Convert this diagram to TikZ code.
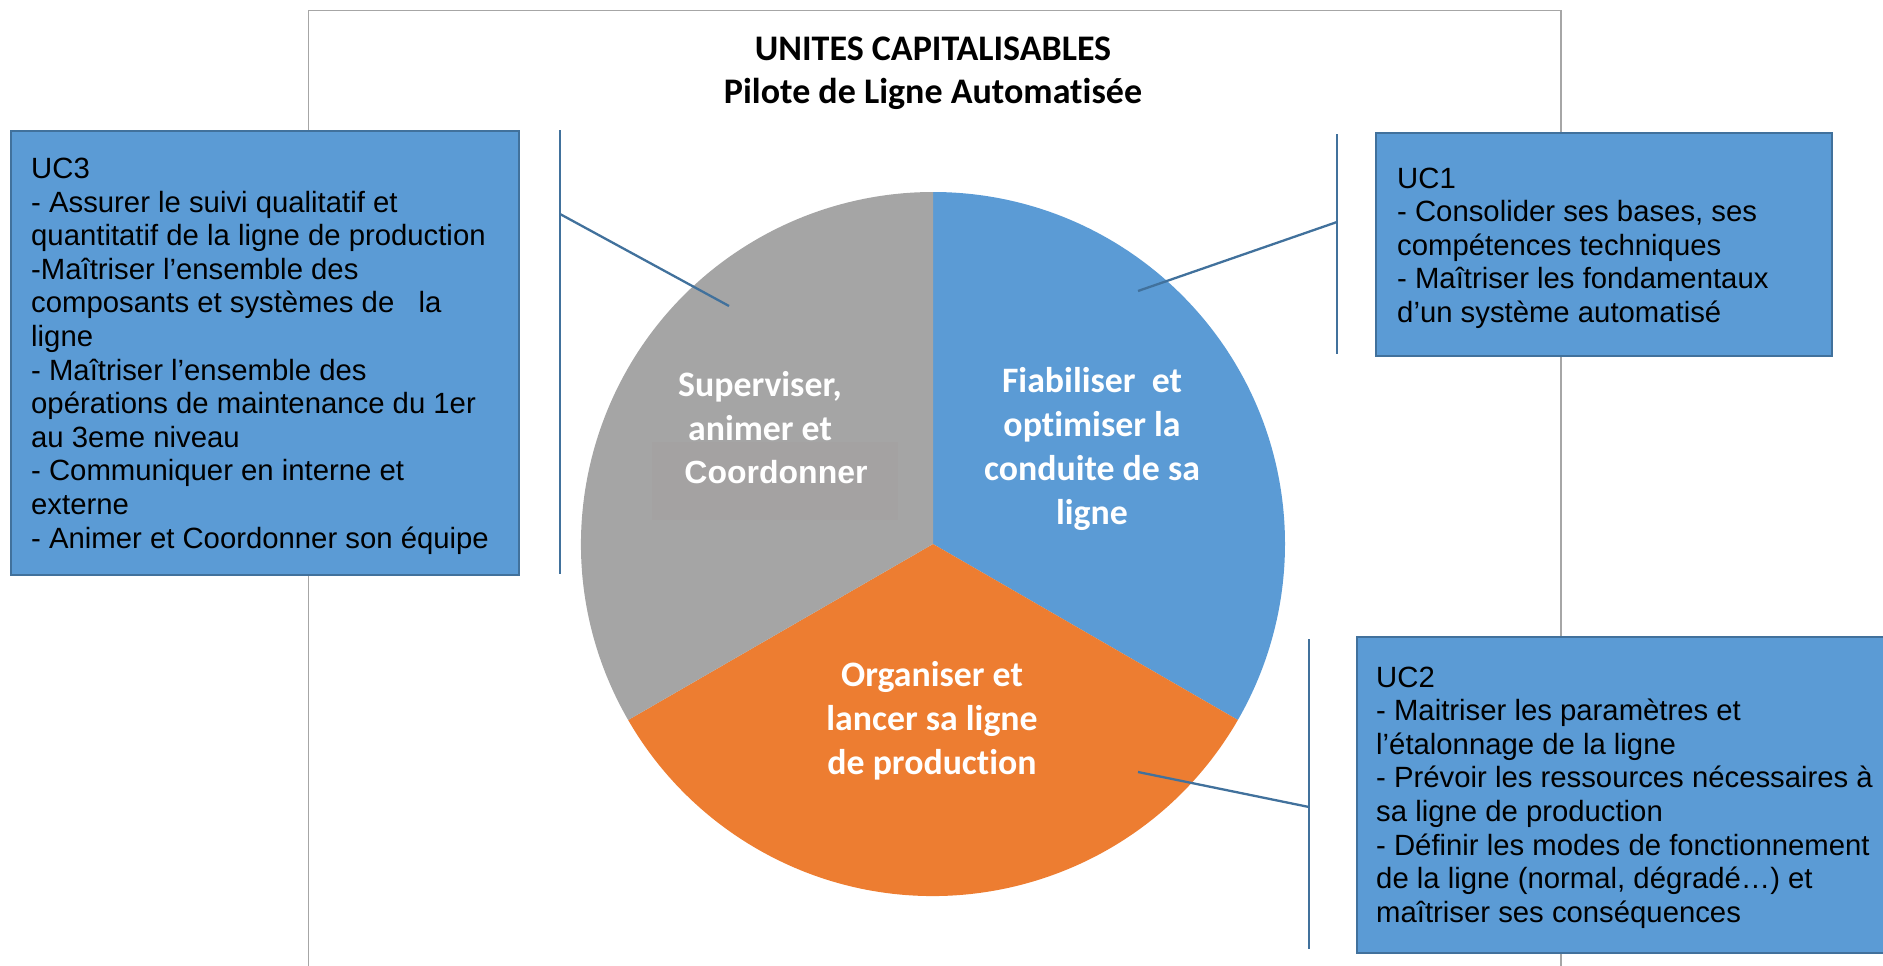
\documentclass[tikz,border=0pt]{standalone}
\usepackage{fontspec}
\newfontfamily\arialf{Liberation Sans}
\newfontfamily\calf{Carlito}[Ligatures=NoCommon]

\definecolor{pieblue}{HTML}{5B9BD5}
\definecolor{pieorange}{HTML}{ED7D31}
\definecolor{piegray}{HTML}{A5A5A5}
\definecolor{shadegray}{HTML}{A4A2A2}
\definecolor{boxedge}{HTML}{41719C}
\definecolor{linkblue}{HTML}{41719C}
\definecolor{framegray}{HTML}{A6A6A6}

% the base anchor of a multi-line node sits on its last line
\tikzset{
  ucbox/.style={draw=boxedge, line width=2.2pt, fill=pieblue, rectangle,
    inner sep=0pt, anchor=north west},
  uctext/.style={anchor=base west, inner sep=0pt, align=left, text=black,
    font=\arialf\fontsize{29.3}{33.6}\selectfont},
  slicetext/.style={anchor=base, inner sep=0pt, align=center, text=white,
    font=\calf\bfseries\fontsize{35.8}{44}\selectfont},
  titletext/.style={anchor=base, inner sep=0pt, align=center, text=black,
    font=\calf\bfseries\fontsize{36}{43}\selectfont},
  conn/.style={draw=linkblue, line width=2.3pt},
  frameline/.style={draw=framegray, line width=1.3pt}
}

\begin{document}
\begin{tikzpicture}[x=1pt, y=-1pt]
  \path[use as bounding box] (0,0) rectangle (1883,966);
  \clip (0,0) rectangle (1883,966);

  % outer frame, open at the bottom
  \draw[frameline] (308.6,990) -- (308.6,10.8) -- (1561,10.8) -- (1561,990);

  % title
  \node[titletext] (title) at (933,103.5) {UNITES CAPITALISABLES\\Pilote de Ligne Automatisée};

  % pie chart: three equal sectors
  \coordinate (c) at (933,544);
  \fill[pieblue]   (c) -- ++(90:352pt)  arc[start angle=90,  end angle=-30,  radius=352pt] -- cycle;
  \fill[pieorange] (c) -- ++(-30:352pt) arc[start angle=-30, end angle=-150, radius=352pt] -- cycle;
  \fill[piegray]   (c) -- ++(210:352pt) arc[start angle=210, end angle=90,   radius=352pt] -- cycle;
  \fill[shadegray] (652,442) rectangle (898,520);

  % sector labels
  \node[slicetext] (sup) at (760,440) {Superviser,\\animer et};
  \node[anchor=base, inner sep=0pt, text=white,
        font=\arialf\bfseries\fontsize{32}{40}\selectfont] (coord) at (776,483) {Coordonner};
  \node[slicetext] (fia) at (1092,524) {Fiabiliser\ \ et\\optimiser la\\conduite de sa\\ligne};
  \node[slicetext] (org) at (932,774) {Organiser et\\lancer sa ligne\\de production};

  % text boxes
  \node[ucbox, minimum width=508pt, minimum height=444pt] (uc3box) at (9.6,129.7) {};
  \node[uctext] (uc3) at (31,548) {UC3\\
- Assurer le suivi qualitatif et\\
quantitatif de la ligne de production\\
-Maîtriser l’ensemble des\\
composants et systèmes de~~~la\\
ligne\\
- Maîtriser l’ensemble des\\
opérations de maintenance du 1er\\
au 3eme niveau\\
- Communiquer en interne et\\
externe\\
- Animer et Coordonner son équipe};

  \node[ucbox, minimum width=456pt, minimum height=223pt] (uc1box) at (1375,132) {};
  \node[uctext] (uc1) at (1397,322.5) {UC1\\
- Consolider ses bases, ses\\
compétences techniques\\
- Maîtriser les fondamentaux\\
d’un système automatisé};

  \node[ucbox, minimum width=560pt, minimum height=316pt] (uc2box) at (1356,636) {};
  \node[uctext] (uc2) at (1376,922.2) {UC2\\
- Maitriser les paramètres et\\
l’étalonnage de la ligne\\
- Prévoir les ressources nécessaires à\\
sa ligne de production\\
- Définir les modes de fonctionnement\\
de la ligne (normal, dégradé…) et\\
maîtriser ses conséquences};

  % brackets and leader lines
  \coordinate (b3top) at (560,130);
  \coordinate (b3bot) at (560,574);
  \coordinate (b3mid) at (560,214);
  \coordinate (p3) at (729,306);
  \draw[conn] (b3top) -- (b3bot);
  \draw[conn] (b3mid) -- (p3);

  \coordinate (b1top) at (1337,134);
  \coordinate (b1bot) at (1337,354);
  \coordinate (b1mid) at (1337,222);
  \coordinate (p1) at (1138,291);
  \draw[conn] (b1top) -- (b1bot);
  \draw[conn] (b1mid) -- (p1);

  \coordinate (b2top) at (1309,639);
  \coordinate (b2bot) at (1309,949);
  \coordinate (b2mid) at (1309,807);
  \coordinate (p2) at (1138,772);
  \draw[conn] (b2top) -- (b2bot);
  \draw[conn] (b2mid) -- (p2);
\end{tikzpicture}
\end{document}
